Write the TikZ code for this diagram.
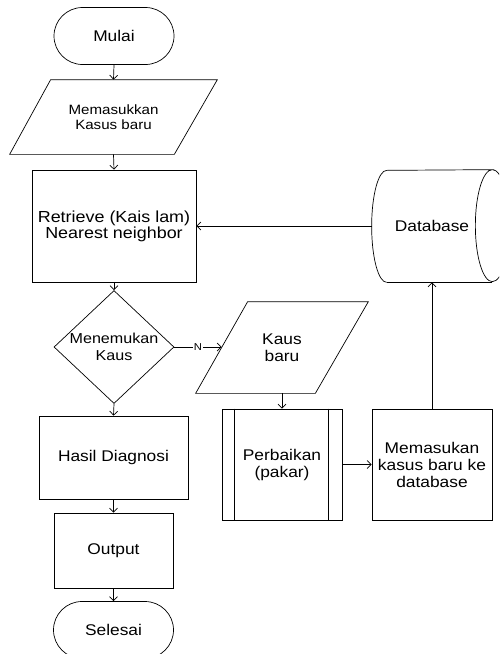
\documentclass[tikz,border=0pt]{standalone}
\usepackage{fontspec}
\setmainfont{Liberation Sans}[FakeStretch=1.12]
\usetikzlibrary{shapes.geometric, arrows.meta}
\tikzset{every node/.style={font=\fontsize{15.5}{17}\selectfont, align=center},
         terminal/.style={draw, rectangle, rounded corners=28.5pt, minimum width=120pt, minimum height=57pt},
         proses/.style={draw, rectangle, inner sep=0pt},
         io/.style={rectangle, inner sep=0pt},
         keputusan/.style={draw, diamond, inner xsep=-8pt, inner ysep=-4pt},
        }

\begin{document}
\begin{tikzpicture}[x=1pt, y=1pt, line width=0.7pt, >={Straight Barb[length=4pt,width=8pt]}]
        \useasboundingbox (0,0) rectangle (499,-654);
        \clip (0,0) rectangle (499,-654);

        \node[terminal](mulai)at(114,-36){Mulai};
        \node[io, minimum width=207pt, minimum height=74pt, font=\fontsize{13.5}{15}\selectfont](masuk)at(113.5,-117){Memasukkan\\Kasus baru};
        \node[proses, minimum width=164pt, minimum height=112pt, font=\fontsize{16}{16}\selectfont](retr)at(114,-226){Retrieve (Kais lam)\\Nearest neighbor};
        \node[keputusan, minimum width=120pt, minimum height=113pt, font=\fontsize{14.4}{17}\selectfont](temu)at(114,-347){Menemukan\\Kaus};
        \node[proses, minimum width=149pt, minimum height=83pt](hasil)at(113.5,-457.5){Hasil Diagnosi};
        \node[proses, minimum width=119pt, minimum height=75pt](output)at(113.5,-550.5){Output};
        \node[terminal](selesai)at(113.5,-630){Selesai};

        \node[io, minimum width=172pt, minimum height=91pt](kaus)at(282,-347.5){Kaus\\baru};
        \node[proses, minimum width=120pt, minimum height=111pt](perb)at(282,-464.5){Perbaikan\\(pakar)};
        \node[proses, minimum width=120pt, minimum height=111pt](simpan)at(432,-464.5){Memasukan\\kasus baru ke\\database};
        \node[rectangle, minimum width=120pt, minimum height=112pt, inner sep=0pt](db)at(432,-226){Database};

        \draw([xshift=41pt]masuk.north west)--(masuk.north east)--([xshift=-43pt]masuk.south east)--(masuk.south west)--cycle;
        \draw([xshift=52pt]kaus.north west)--(kaus.north east)--([xshift=-53pt]kaus.south east)--(kaus.south west)--cycle;
        \draw([xshift=13pt]perb.north west)--([xshift=13pt]perb.south west);
        \draw([xshift=-14pt]perb.north east)--([xshift=-14pt]perb.south east);
        \draw([xshift=15pt]db.south west)arc[start angle=270, end angle=90, x radius=15pt, y radius=56pt]--(db.north east)
             arc[start angle=90, end angle=270, x radius=17pt, y radius=56pt]
             arc[start angle=270, end angle=450, x radius=17pt, y radius=56pt];
        \draw(db.south east)--([xshift=15pt]db.south west);

        \draw[->](mulai.south)--(masuk.north);
        \draw[->](masuk.south)--(retr.north);
        \draw[->](retr.south)--(temu.north);
        \draw[->](temu.south)--(hasil.north);
        \draw[->](hasil.south)--(output.north);
        \draw[->](output.south)--(selesai.north);
        \draw[->](temu.east)--node[fill=white, inner sep=1pt, font=\fontsize{10}{10}\selectfont]{N}([xshift=26pt,yshift=0.5pt]kaus.west);
        \draw[->](kaus.south)--(perb.north);
        \draw[->](perb.east)--(simpan.west);
        \draw[->](simpan.north)--(db.south);
        \draw[->](db.west)--(retr.east);
    \end{tikzpicture}
\end{document}
